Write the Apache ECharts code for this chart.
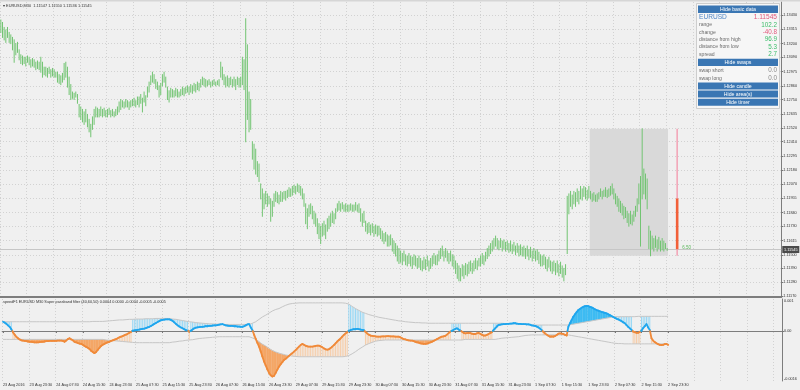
<!DOCTYPE html>
<html><head><meta charset="utf-8">
<script src="https://cdn.jsdelivr.net/npm/echarts@6/dist/echarts.min.js"></script>
<style>html,body{margin:0;padding:0;background:#f0f0f0}#c{width:800px;height:390px}</style>
</head><body><div id="c"></div>
<script>
// ---------- DATA ----------
const timeLabels = ["23 Aug 2016","23 Aug 23:30","24 Aug 07:30","24 Aug 15:30","24 Aug 23:30","25 Aug 07:30","25 Aug 15:30","25 Aug 23:30","26 Aug 07:30","26 Aug 15:30","26 Aug 23:30","29 Aug 07:30","29 Aug 15:30","29 Aug 23:30","30 Aug 07:30","30 Aug 15:30","30 Aug 23:30","31 Aug 07:30","31 Aug 15:30","31 Aug 23:30","1 Sep 07:30","1 Sep 15:30","1 Sep 23:30","2 Sep 07:30","2 Sep 15:30","2 Sep 23:30"];
const priceTicks = [1.13430,1.13315,1.13200,1.13090,1.12975,1.12860,1.12750,1.12635,1.12520,1.12410,1.12295,1.12180,1.12070,1.11955,1.11840,1.11730,1.11615,1.11500,1.11390,1.11280,1.11170];
const indTicks = [0.001, 0, -0.0016];
const indTickLabels = ["0.001", "0.00", "-0.0016"];

const high = [
1.1339,1.1337,1.1333,1.1331,1.1333,1.1329,1.1327,1.1325,1.1323,1.1320,
1.1321,1.1315,1.1311,1.1310,1.1309,1.1309,1.1310,1.1309,1.1307,1.1308,
1.1307,1.1305,1.1306,1.1305,1.1309,1.1305,1.1301,1.1301,1.1300,1.1301,
1.1299,1.1300,1.1299,1.1297,1.1297,1.1295,1.1294,1.1296,1.1304,1.1305,
1.1301,1.1293,1.1287,1.1281,1.1280,1.1281,1.1279,1.1271,1.1269,1.1267,
1.1265,1.1267,1.1263,1.1259,1.1255,1.1261,1.1267,1.1269,1.1268,1.1267,
1.1269,1.1267,1.1268,1.1266,1.1267,1.1268,1.1266,1.1267,1.1265,1.1267,
1.1269,1.1273,1.1275,1.1274,1.1273,1.1275,1.1274,1.1273,1.1274,1.1275,
1.1276,1.1274,1.1277,1.1277,1.1279,1.1276,1.1281,1.1278,1.1285,1.1289,
1.1294,1.1297,1.1295,1.1291,1.1289,1.1286,1.1288,1.1295,1.1297,1.1293,
1.1285,1.1282,1.1284,1.1283,1.1282,1.1284,1.1283,1.1281,1.1283,1.1285,
1.1284,1.1285,1.1286,1.1285,1.1287,1.1286,1.1288,1.1287,1.1289,1.1288,
1.1291,1.1293,1.1292,1.1291,1.1290,1.1291,1.1289,1.1290,1.1291,1.1289,
1.1290,1.1291,1.1305,1.1301,1.1295,1.1293,1.1294,1.1292,1.1293,1.1291,
1.1293,1.1291,1.1293,1.1292,1.1293,1.1309,1.1307,1.1340,1.1319,1.1281,
1.1275,1.1241,1.1239,1.1235,1.1225,1.1223,1.1207,1.1203,1.1199,1.1201,
1.1199,1.1197,1.1195,1.1193,1.1199,1.1201,1.1200,1.1198,1.1201,1.1200,
1.1201,1.1201,1.1202,1.1204,1.1203,1.1205,1.1206,1.1205,1.1207,1.1206,
1.1205,1.1203,1.1199,1.1191,1.1187,1.1190,1.1191,1.1189,1.1185,1.1183,
1.1179,1.1175,1.1173,1.1175,1.1177,1.1174,1.1179,1.1181,1.1183,1.1185,
1.1183,1.1187,1.1191,1.1193,1.1191,1.1192,1.1190,1.1191,1.1190,1.1190,
1.1191,1.1190,1.1190,1.1192,1.1190,1.1191,1.1187,1.1183,1.1185,1.1177,
1.1175,1.1176,1.1174,1.1175,1.1173,1.1174,1.1173,1.1173,1.1171,1.1169,
1.1167,1.1168,1.1166,1.1165,1.1166,1.1163,1.1161,1.1159,1.1157,1.1155,
1.1153,1.1151,1.1153,1.1150,1.1149,1.1151,1.1149,1.1148,1.1150,1.1149,
1.1147,1.1149,1.1147,1.1145,1.1148,1.1146,1.1149,1.1145,1.1147,1.1149,
1.1151,1.1149,1.1150,1.1153,1.1155,1.1157,1.1153,1.1155,1.1153,1.1151,
1.1153,1.1150,1.1149,1.1145,1.1143,1.1141,1.1139,1.1142,1.1141,1.1143,
1.1142,1.1144,1.1145,1.1143,1.1145,1.1147,1.1145,1.1147,1.1149,1.1151,
1.1149,1.1152,1.1155,1.1157,1.1159,1.1161,1.1163,1.1165,1.1163,1.1161,
1.1163,1.1161,1.1162,1.1160,1.1161,1.1159,1.1161,1.1158,1.1160,1.1157,
1.1159,1.1157,1.1158,1.1156,1.1157,1.1155,1.1157,1.1154,1.1156,1.1153,
1.1155,1.1153,1.1154,1.1152,1.1150,1.1149,1.1150,1.1148,1.1146,1.1148,
1.1145,1.1144,1.1145,1.1143,1.1145,1.1142,1.1144,1.1141,1.1139,1.1142,
1.1197,1.1199,1.1201,1.1198,1.1201,1.1200,1.1203,1.1201,1.1205,1.1203,
1.1205,1.1204,1.1202,1.1205,1.1201,1.1199,1.1200,1.1198,1.1199,1.1200,
1.1203,1.1201,1.1202,1.1204,1.1202,1.1203,1.1205,1.1207,1.1203,1.1199,
1.1197,1.1195,1.1193,1.1191,1.1189,1.1188,1.1185,1.1183,1.1185,1.1182,
1.1185,1.1189,1.1195,1.1207,1.1213,1.12514,1.1219,1.1215,1.1211,1.1173,
1.1169,1.1165,1.1163,1.1165,1.1162,1.1164,1.1161,1.1163,1.1161,1.1159,
1.11550];
const low = [
1.1329,1.1325,1.1323,1.1321,1.1325,1.1321,1.1320,1.1315,1.1305,1.1311,
1.1313,1.1307,1.1304,1.1303,1.1304,1.1302,1.1305,1.1303,1.1301,1.1302,
1.1301,1.1299,1.1300,1.1299,1.1297,1.1293,1.1295,1.1294,1.1293,1.1296,
1.1293,1.1294,1.1293,1.1293,1.1289,1.1288,1.1287,1.1289,1.1291,1.1293,
1.1285,1.1279,1.1275,1.1276,1.1275,1.1277,1.1272,1.1261,1.1259,1.1257,
1.1255,1.1257,1.1253,1.1249,1.1245,1.1251,1.1255,1.1261,1.1261,1.1261,
1.1262,1.1261,1.1262,1.1261,1.1261,1.1263,1.1261,1.1262,1.1261,1.1262,
1.1263,1.1265,1.1267,1.1269,1.1268,1.1269,1.1269,1.1267,1.1269,1.1270,
1.1270,1.1269,1.1271,1.1269,1.1272,1.1265,1.1273,1.1270,1.1277,1.1281,
1.1287,1.1289,1.1288,1.1284,1.1283,1.1277,1.1279,1.1286,1.1289,1.1285,
1.1275,1.1273,1.1277,1.1277,1.1277,1.1278,1.1277,1.1277,1.1278,1.1279,
1.1278,1.1280,1.1281,1.1279,1.1281,1.1280,1.1282,1.1281,1.1283,1.1282,
1.1285,1.1287,1.1286,1.1285,1.1286,1.1287,1.1285,1.1286,1.1287,1.1286,
1.1287,1.1286,1.1293,1.1291,1.1287,1.1285,1.1286,1.1285,1.1287,1.1285,
1.1286,1.1283,1.1287,1.1285,1.1285,1.1287,1.1283,1.1241,1.1259,1.1249,
1.1251,1.1227,1.1219,1.1215,1.1213,1.1209,1.1195,1.1181,1.1187,1.1191,
1.1189,1.1191,1.1177,1.1181,1.1189,1.1193,1.1192,1.1191,1.1193,1.1193,
1.1195,1.1194,1.1196,1.1197,1.1197,1.1198,1.1200,1.1199,1.1201,1.1200,
1.1198,1.1195,1.1189,1.1175,1.1171,1.1181,1.1183,1.1179,1.1175,1.1173,
1.1167,1.1163,1.1159,1.1165,1.1166,1.1163,1.1169,1.1171,1.1173,1.1176,
1.1175,1.1179,1.1185,1.1186,1.1185,1.1187,1.1185,1.1185,1.1185,1.1185,
1.1186,1.1185,1.1185,1.1186,1.1185,1.1184,1.1177,1.1173,1.1176,1.1169,
1.1167,1.1168,1.1166,1.1168,1.1165,1.1167,1.1165,1.1166,1.1163,1.1161,
1.1159,1.1161,1.1157,1.1157,1.1158,1.1153,1.1151,1.1149,1.1145,1.1143,
1.1144,1.1142,1.1145,1.1142,1.1141,1.1143,1.1141,1.1139,1.1142,1.1141,
1.1139,1.1140,1.1138,1.1137,1.1139,1.1138,1.1141,1.1137,1.1139,1.1141,
1.1143,1.1142,1.1142,1.1145,1.1147,1.1149,1.1145,1.1148,1.1145,1.1143,
1.1145,1.1141,1.1139,1.1135,1.1131,1.1129,1.1129,1.1133,1.1131,1.1134,
1.1133,1.1135,1.1137,1.1135,1.1137,1.1139,1.1138,1.1141,1.1141,1.1143,
1.1142,1.1145,1.1147,1.1149,1.1151,1.1153,1.1155,1.1157,1.1155,1.1154,
1.1156,1.1153,1.1155,1.1153,1.1154,1.1152,1.1153,1.1151,1.1153,1.1150,
1.1152,1.1149,1.1150,1.1149,1.1149,1.1147,1.1149,1.1146,1.1148,1.1145,
1.1147,1.1145,1.1146,1.1143,1.1141,1.1141,1.1142,1.1139,1.1137,1.1140,
1.1137,1.1135,1.1137,1.1134,1.1136,1.1133,1.1135,1.1132,1.1129,1.1134,
1.1151,1.1183,1.1189,1.1187,1.1191,1.1189,1.1193,1.1191,1.1195,1.1194,
1.1197,1.1195,1.1194,1.1196,1.1195,1.1193,1.1194,1.1193,1.1193,1.1195,
1.1197,1.1195,1.1197,1.1197,1.1196,1.1197,1.1198,1.1199,1.1195,1.1191,
1.1189,1.1185,1.1184,1.1182,1.1179,1.1180,1.1176,1.1173,1.1175,1.1174,
1.1177,1.1181,1.1185,1.1191,1.1157,1.1195,1.1199,1.1195,1.1187,1.1155,
1.11492,1.1155,1.1153,1.1156,1.1153,1.1155,1.1153,1.1154,1.1153,1.1155,
1.11536];

// today's daily candle: open, close, low, high
const dayCandle = [1.11953, 1.11545, 1.11492, 1.12514];
const dayStartBar = 354;
const lastClose = 1.11545;
const timerText = "6.50";

// Super passband filter line and its bands
const filt = [
0.00031,0.00028,0.00024,0.00019,0.00014,0.00006,-0.00004,-0.00012,-0.00019,-0.00024,
-0.00028,-0.00031,-0.00032,-0.00033,-0.00034,-0.00035,-0.00036,-0.00036,-0.00037,-0.00038,
-0.00038,-0.00038,-0.00037,-0.00036,-0.00036,-0.00035,-0.00034,-0.00034,-0.00033,-0.00033,
-0.00033,-0.00033,-0.00033,-0.00032,-0.00032,-0.00032,-0.00033,-0.00036,-0.00032,-0.00027,
-0.00024,-0.00028,-0.00031,-0.00036,-0.00038,-0.00040,-0.00042,-0.00043,-0.00046,-0.00050,
-0.00053,-0.00056,-0.00060,-0.00066,-0.00070,-0.00074,-0.00070,-0.00063,-0.00056,-0.00050,
-0.00046,-0.00043,-0.00040,-0.00038,-0.00036,-0.00033,-0.00031,-0.00029,-0.00027,-0.00024,
-0.00021,-0.00019,-0.00017,-0.00014,-0.00012,-0.00009,-0.00006,-0.00003,0.00001,0.00002,
0.00003,0.00004,0.00005,0.00006,0.00007,0.00008,0.00010,0.00012,0.00014,0.00017,
0.00020,0.00024,0.00027,0.00030,0.00033,0.00036,0.00037,0.00038,0.00039,0.00039,
0.00039,0.00037,0.00034,0.00029,0.00024,0.00019,0.00015,0.00012,0.00009,0.00006,
0.00003,0.00001,-0.00002,0.00001,0.00005,0.00009,0.00011,0.00012,0.00013,0.00014,
0.00014,0.00015,0.00016,0.00016,0.00017,0.00017,0.00018,0.00019,0.00019,0.00020,
0.00021,0.00022,0.00023,0.00021,0.00019,0.00018,0.00017,0.00017,0.00017,0.00016,
0.00016,0.00015,0.00015,0.00014,0.00014,0.00016,0.00019,0.00022,0.00023,0.00012,
0.00003,-0.00012,-0.00026,-0.00040,-0.00052,-0.00068,-0.00085,-0.00102,-0.00115,-0.00128,
-0.00140,-0.00148,-0.00152,-0.00150,-0.00140,-0.00129,-0.00119,-0.00111,-0.00104,-0.00097,
-0.00093,-0.00088,-0.00083,-0.00078,-0.00074,-0.00069,-0.00064,-0.00058,-0.00052,-0.00047,
-0.00043,-0.00046,-0.00049,-0.00051,-0.00052,-0.00052,-0.00052,-0.00051,-0.00050,-0.00049,
-0.00049,-0.00051,-0.00054,-0.00058,-0.00061,-0.00062,-0.00061,-0.00057,-0.00052,-0.00047,
-0.00041,-0.00035,-0.00030,-0.00025,-0.00019,-0.00013,-0.00008,-0.00004,0.00001,0.00003,
0.00005,0.00006,0.00006,0.00007,0.00006,0.00005,0.00004,0.00003,-0.00003,-0.00008,
-0.00012,-0.00015,-0.00016,-0.00017,-0.00018,-0.00019,-0.00019,-0.00019,-0.00018,-0.00018,
-0.00018,-0.00017,-0.00017,-0.00018,-0.00018,-0.00018,-0.00019,-0.00019,-0.00019,-0.00021,
-0.00024,-0.00027,-0.00028,-0.00030,-0.00031,-0.00032,-0.00032,-0.00034,-0.00036,-0.00038,
-0.00039,-0.00041,-0.00042,-0.00043,-0.00043,-0.00042,-0.00040,-0.00038,-0.00036,-0.00033,
-0.00030,-0.00027,-0.00024,-0.00021,-0.00019,-0.00018,-0.00016,-0.00012,-0.00007,-0.00002,
0.00001,0.00004,0.00007,0.00009,0.00005,0.00002,-0.00002,-0.00006,-0.00008,-0.00007,
-0.00006,-0.00007,-0.00009,-0.00010,-0.00010,-0.00008,-0.00006,-0.00009,-0.00012,-0.00015,
-0.00015,-0.00013,-0.00010,-0.00007,-0.00004,0.00003,0.00009,0.00015,0.00020,0.00021,
0.00022,0.00023,0.00023,0.00024,0.00024,0.00025,0.00025,0.00026,0.00026,0.00025,
0.00024,0.00024,0.00023,0.00023,0.00023,0.00022,0.00022,0.00021,0.00019,0.00018,
0.00017,0.00015,0.00012,0.00008,0.00003,-0.00003,-0.00008,-0.00012,-0.00016,-0.00019,
-0.00019,-0.00019,-0.00017,-0.00013,-0.00009,-0.00008,-0.00009,-0.00010,-0.00013,-0.00015,
0.00014,0.00026,0.00037,0.00048,0.00056,0.00063,0.00070,0.00074,0.00078,0.00081,
0.00083,0.00084,0.00083,0.00081,0.00079,0.00076,0.00073,0.00070,0.00068,0.00066,
0.00064,0.00062,0.00061,0.00059,0.00056,0.00053,0.00050,0.00047,0.00044,0.00041,
0.00039,0.00036,0.00033,0.00029,0.00026,0.00020,0.00014,0.00009,0.00004,-0.00002,
-0.00004,-0.00006,-0.00006,-0.00003,0.00001,0.00010,0.00016,0.00023,0.00012,0.00003,
-0.00024,-0.00032,-0.00037,-0.00041,-0.00044,-0.00046,-0.00047,-0.00046,-0.00044,-0.00043,
-0.00047];
const bandUp = [
0.00031,0.00031,0.00031,0.00031,0.00031,0.00031,0.00031,0.00031,0.00031,0.00031,
0.00031,0.00031,0.00031,0.00031,0.00031,0.00031,0.00031,0.00031,0.00031,0.00031,
0.00031,0.00031,0.00031,0.00031,0.00031,0.00031,0.00031,0.00031,0.00031,0.00031,
0.00031,0.00031,0.00031,0.00031,0.00031,0.00031,0.00031,0.00031,0.00031,0.00031,
0.00031,0.00031,0.00031,0.00031,0.00031,0.00031,0.00031,0.00031,0.00031,0.00031,
0.00031,0.00031,0.00031,0.00032,0.00032,0.00032,0.00032,0.00032,0.00032,0.00032,
0.00032,0.00032,0.00033,0.00033,0.00034,0.00034,0.00035,0.00035,0.00036,0.00036,
0.00037,0.00037,0.00037,0.00038,0.00038,0.00038,0.00039,0.00039,0.00039,0.00040,
0.00040,0.00040,0.00040,0.00040,0.00040,0.00041,0.00041,0.00041,0.00041,0.00041,
0.00041,0.00042,0.00042,0.00042,0.00042,0.00042,0.00042,0.00042,0.00042,0.00042,
0.00042,0.00041,0.00040,0.00040,0.00039,0.00038,0.00037,0.00036,0.00035,0.00034,
0.00033,0.00032,0.00031,0.00030,0.00030,0.00029,0.00028,0.00028,0.00027,0.00027,
0.00026,0.00026,0.00025,0.00025,0.00024,0.00024,0.00024,0.00023,0.00023,0.00023,
0.00023,0.00022,0.00022,0.00022,0.00022,0.00022,0.00022,0.00022,0.00022,0.00022,
0.00022,0.00022,0.00022,0.00022,0.00022,0.00022,0.00022,0.00022,0.00022,0.00024,
0.00026,0.00028,0.00031,0.00035,0.00039,0.00043,0.00047,0.00050,0.00053,0.00057,
0.00060,0.00064,0.00067,0.00070,0.00072,0.00074,0.00075,0.00078,0.00081,0.00084,
0.00086,0.00088,0.00090,0.00091,0.00092,0.00093,0.00093,0.00094,0.00094,0.00094,
0.00094,0.00094,0.00094,0.00094,0.00094,0.00094,0.00094,0.00094,0.00094,0.00094,
0.00094,0.00094,0.00094,0.00094,0.00094,0.00094,0.00094,0.00094,0.00094,0.00094,
0.00094,0.00094,0.00094,0.00094,0.00094,0.00094,0.00093,0.00091,0.00090,0.00086,
0.00082,0.00078,0.00075,0.00072,0.00069,0.00066,0.00063,0.00061,0.00059,0.00057,
0.00055,0.00054,0.00052,0.00050,0.00049,0.00047,0.00046,0.00045,0.00044,0.00043,
0.00042,0.00041,0.00040,0.00039,0.00038,0.00037,0.00036,0.00035,0.00034,0.00033,
0.00033,0.00032,0.00031,0.00031,0.00030,0.00030,0.00029,0.00029,0.00028,0.00028,
0.00028,0.00027,0.00027,0.00027,0.00027,0.00026,0.00026,0.00026,0.00026,0.00026,
0.00026,0.00026,0.00026,0.00026,0.00026,0.00026,0.00026,0.00026,0.00026,0.00026,
0.00026,0.00026,0.00026,0.00026,0.00026,0.00026,0.00026,0.00026,0.00026,0.00026,
0.00026,0.00026,0.00026,0.00026,0.00026,0.00026,0.00026,0.00026,0.00026,0.00026,
0.00026,0.00026,0.00026,0.00026,0.00026,0.00026,0.00026,0.00026,0.00026,0.00026,
0.00026,0.00025,0.00025,0.00025,0.00025,0.00025,0.00025,0.00025,0.00025,0.00025,
0.00025,0.00023,0.00023,0.00023,0.00023,0.00023,0.00023,0.00023,0.00020,0.00020,
0.00020,0.00020,0.00020,0.00020,0.00020,0.00020,0.00020,0.00020,0.00020,0.00020,
0.00020,0.00020,0.00020,0.00020,0.00020,0.00020,0.00020,0.00020,0.00020,0.00020,
0.00020,0.00021,0.00022,0.00023,0.00024,0.00025,0.00026,0.00027,0.00028,0.00029,
0.00030,0.00031,0.00032,0.00033,0.00034,0.00035,0.00036,0.00037,0.00038,0.00039,
0.00040,0.00041,0.00042,0.00043,0.00044,0.00045,0.00046,0.00047,0.00048,0.00048,
0.00048,0.00048,0.00048,0.00048,0.00048,0.00048,0.00048,0.00048,0.00048,0.00048,
0.00048,0.00049,0.00049,0.00049,0.00049,0.00049,0.00049,0.00049,0.00049,0.00049,
0.00049,0.00049,0.00049,0.00049,0.00049,0.00049,0.00049,0.00049,0.00049,0.00049,
0.00049];
const bandDn = [
-0.00028,-0.00028,-0.00028,-0.00028,-0.00028,-0.00028,-0.00028,-0.00028,-0.00028,-0.00028,
-0.00028,-0.00028,-0.00028,-0.00028,-0.00028,-0.00028,-0.00028,-0.00028,-0.00028,-0.00028,
-0.00028,-0.00028,-0.00028,-0.00028,-0.00028,-0.00028,-0.00028,-0.00028,-0.00028,-0.00028,
-0.00028,-0.00028,-0.00028,-0.00028,-0.00028,-0.00028,-0.00028,-0.00028,-0.00028,-0.00028,
-0.00028,-0.00028,-0.00028,-0.00028,-0.00028,-0.00028,-0.00028,-0.00028,-0.00028,-0.00028,
-0.00028,-0.00028,-0.00028,-0.00028,-0.00028,-0.00028,-0.00028,-0.00028,-0.00028,-0.00028,
-0.00028,-0.00029,-0.00030,-0.00030,-0.00031,-0.00031,-0.00032,-0.00032,-0.00033,-0.00033,
-0.00034,-0.00035,-0.00035,-0.00036,-0.00036,-0.00037,-0.00037,-0.00038,-0.00038,-0.00039,
-0.00039,-0.00039,-0.00039,-0.00039,-0.00039,-0.00039,-0.00039,-0.00039,-0.00039,-0.00039,
-0.00039,-0.00039,-0.00039,-0.00039,-0.00039,-0.00039,-0.00039,-0.00039,-0.00039,-0.00039,
-0.00039,-0.00038,-0.00037,-0.00037,-0.00036,-0.00035,-0.00034,-0.00034,-0.00033,-0.00032,
-0.00031,-0.00031,-0.00030,-0.00029,-0.00029,-0.00028,-0.00027,-0.00026,-0.00025,-0.00025,
-0.00024,-0.00023,-0.00023,-0.00022,-0.00022,-0.00021,-0.00021,-0.00020,-0.00020,-0.00019,
-0.00019,-0.00019,-0.00019,-0.00019,-0.00019,-0.00019,-0.00019,-0.00019,-0.00019,-0.00019,
-0.00019,-0.00019,-0.00019,-0.00019,-0.00019,-0.00019,-0.00019,-0.00019,-0.00019,-0.00021,
-0.00023,-0.00025,-0.00028,-0.00032,-0.00036,-0.00040,-0.00044,-0.00047,-0.00050,-0.00054,
-0.00058,-0.00062,-0.00065,-0.00068,-0.00070,-0.00072,-0.00074,-0.00076,-0.00077,-0.00079,
-0.00080,-0.00081,-0.00082,-0.00083,-0.00084,-0.00085,-0.00085,-0.00086,-0.00086,-0.00086,
-0.00086,-0.00086,-0.00086,-0.00086,-0.00086,-0.00086,-0.00086,-0.00086,-0.00086,-0.00086,
-0.00086,-0.00086,-0.00086,-0.00086,-0.00086,-0.00086,-0.00086,-0.00086,-0.00086,-0.00086,
-0.00086,-0.00086,-0.00086,-0.00086,-0.00086,-0.00086,-0.00085,-0.00084,-0.00082,-0.00079,
-0.00076,-0.00072,-0.00069,-0.00065,-0.00061,-0.00058,-0.00054,-0.00050,-0.00047,-0.00045,
-0.00042,-0.00040,-0.00038,-0.00036,-0.00034,-0.00033,-0.00032,-0.00031,-0.00031,-0.00030,
-0.00030,-0.00030,-0.00030,-0.00030,-0.00030,-0.00030,-0.00030,-0.00030,-0.00030,-0.00030,
-0.00030,-0.00030,-0.00030,-0.00030,-0.00030,-0.00030,-0.00030,-0.00030,-0.00030,-0.00030,
-0.00030,-0.00030,-0.00030,-0.00030,-0.00030,-0.00030,-0.00030,-0.00030,-0.00030,-0.00030,
-0.00030,-0.00030,-0.00030,-0.00030,-0.00030,-0.00030,-0.00030,-0.00030,-0.00030,-0.00030,
-0.00030,-0.00030,-0.00030,-0.00030,-0.00030,-0.00030,-0.00030,-0.00028,-0.00028,-0.00028,
-0.00028,-0.00028,-0.00028,-0.00028,-0.00028,-0.00028,-0.00028,-0.00028,-0.00028,-0.00028,
-0.00028,-0.00028,-0.00028,-0.00028,-0.00028,-0.00028,-0.00028,-0.00027,-0.00026,-0.00025,
-0.00024,-0.00024,-0.00023,-0.00023,-0.00022,-0.00022,-0.00021,-0.00021,-0.00020,-0.00020,
-0.00019,-0.00018,-0.00017,-0.00016,-0.00015,-0.00015,-0.00014,-0.00014,-0.00013,-0.00013,
-0.00013,-0.00013,-0.00013,-0.00013,-0.00013,-0.00013,-0.00013,-0.00013,-0.00013,-0.00013,
-0.00013,-0.00013,-0.00013,-0.00013,-0.00013,-0.00013,-0.00013,-0.00013,-0.00013,-0.00013,
-0.00013,-0.00014,-0.00015,-0.00016,-0.00017,-0.00018,-0.00019,-0.00020,-0.00021,-0.00022,
-0.00023,-0.00024,-0.00025,-0.00026,-0.00027,-0.00028,-0.00029,-0.00030,-0.00031,-0.00032,
-0.00033,-0.00034,-0.00035,-0.00036,-0.00037,-0.00038,-0.00039,-0.00040,-0.00041,-0.00041,
-0.00042,-0.00042,-0.00042,-0.00043,-0.00043,-0.00043,-0.00043,-0.00043,-0.00043,-0.00043,
-0.00043,-0.00043,-0.00043,-0.00043,-0.00043,-0.00043,-0.00043,-0.00043,-0.00043,-0.00043,
-0.00043,-0.00043,-0.00043,-0.00043,-0.00043,-0.00043,-0.00043,-0.00043,-0.00043,-0.00043,
-0.00043];

const panelRows = [
  ["range", "102.2", "#3dbd6b"],
  ["change", "-40.8", "#e2587c"],
  ["distance from high", "96.9", "#3dbd6b"],
  ["distance from low", "5.3", "#3dbd6b"],
  ["spread", "2.7", "#3dbd6b"]
];
const swapRows = [["swap short", "0.0"], ["swap long", "0.0"]];

// ---------- CHART ----------
const FONT = 'Liberation Sans';
const NCAT = 469;
const cats = Array.from({length: NCAT}, (_, i) => i);
const gridCol = '#d2d2d2';
const BLUE = '#1fa6ee', ORANGE = '#f08a3a';
const labelIdx = (i) => i % 16 === 0 && i / 16 < timeLabels.length;

const chart = echarts.init(document.getElementById('c'));

function xAxisFor(gi, labels) {
  return {
    type: 'category', gridIndex: gi, data: cats, boundaryGap: true,
    axisLine: {show: true, lineStyle: {color: '#7d7d7d', width: gi === 0 ? 2 : 1}},
    axisTick: {show: labels, alignWithLabel: true, length: 2, interval: labelIdx, lineStyle: {color: '#777'}},
    axisLabel: {show: labels, interval: labelIdx, formatter: (v, idx) => timeLabels[idx / 16], align: 'left',
      fontSize: 3.8, color: '#333', margin: 2, fontFamily: FONT},
    splitLine: {show: true, interval: (i) => i % 16 === 0, lineStyle: {color: gridCol, type: [1, 2], width: 1}}
  };
}

const priceData = high.map((h, i) => [i, h, low[i]]);
const boxTop = Math.max(...high.slice(dayStartBar));
const boxBot = Math.min(...low.slice(dayStartBar));
const lastBar = high.length - 1;
const fillData = filt.map((v, i) => [i, v, bandUp[i], bandDn[i]]);
const segData = filt.slice(0, -1).map((v, i) => [i, v, filt[i + 1]]);

function seg(p, q, c) {
  return {type: 'line', shape: {x1: p[0], y1: p[1], x2: q[0], y2: q[1]}, style: {stroke: c, lineWidth: 1.8, lineCap: 'round'}};
}

const option = {
  animation: false,
  backgroundColor: '#f0f0f0',
  grid: [
    {left: 0, right: 18, top: 2, height: 295},
    {left: 0, right: 18, top: 299, height: 82}
  ],
  xAxis: [xAxisFor(0, false), xAxisFor(1, true)],
  yAxis: [
    {type: 'value', gridIndex: 0, position: 'right', min: 1.11160, max: 1.13535,
      axisLine: {show: true, lineStyle: {color: '#7d7d7d'}},
      axisTick: {show: true, length: 2, customValues: priceTicks, lineStyle: {color: '#777'}},
      axisLabel: {customValues: priceTicks, formatter: v => v.toFixed(5), fontSize: 3.8, color: '#333', margin: 2, fontFamily: FONT},
      splitLine: {show: true, lineStyle: {color: gridCol, type: [1, 2]}}},
    {type: 'value', gridIndex: 1, position: 'right', min: -0.00167, max: 0.00107,
      axisLine: {show: true, lineStyle: {color: '#7d7d7d'}},
      axisTick: {show: true, length: 2, customValues: [0], lineStyle: {color: '#777'}},
      axisLabel: {customValues: indTicks, formatter: v => { const k = indTicks.indexOf(v); return k >= 0 ? indTickLabels[k] : ''; },
        fontSize: 3.8, color: '#333', margin: 2, fontFamily: FONT},
      splitLine: {show: true, lineStyle: {color: gridCol, type: [1, 2]}}}
  ],
  series: [
    { // today's range box
      type: 'custom', xAxisIndex: 0, yAxisIndex: 0, z: 1,
      data: [[dayStartBar, boxTop, lastBar, boxBot]],
      encode: {x: [0, 2], y: [1, 3]},
      renderItem: (params, api) => {
        const p1 = api.coord([api.value(0), api.value(1)]);
        const p2 = api.coord([api.value(2), api.value(3)]);
        const w = api.size([1, 0])[0];
        return {type: 'rect', shape: {x: p1[0] - w / 2, y: p1[1], width: p2[0] - p1[0] + w, height: p2[1] - p1[1]},
          style: {fill: '#d9d9d9'}};
      }
    },
    { // current price line + tag
      type: 'custom', xAxisIndex: 0, yAxisIndex: 0, z: 2, clip: false,
      data: [[lastBar, lastClose]],
      renderItem: (params, api) => {
        const p = api.coord([api.value(0), api.value(1)]);
        const cs = params.coordSys;
        const y = Math.round(p[1]) + 0.5;
        return {type: 'group', children: [
          {type: 'line', shape: {x1: cs.x, y1: y, x2: cs.x + cs.width, y2: y}, style: {stroke: '#c6c6c6', lineWidth: 1}},
          {type: 'rect', shape: {x: cs.x + cs.width + 1, y: y - 3.5, width: 17, height: 7}, style: {fill: '#4a4a4a'}},
          {type: 'text', x: cs.x + cs.width + 9.5, y: y, style: {text: lastClose.toFixed(5), fill: '#ffffff', fontSize: 3.8,
            fontFamily: FONT, align: 'center', verticalAlign: 'middle', textAlign: 'center', textVerticalAlign: 'middle'}}
        ]};
      }
    },
    { // price bars (high-low)
      type: 'custom', xAxisIndex: 0, yAxisIndex: 0, z: 3,
      data: priceData, encode: {x: 0, y: [1, 2]},
      renderItem: (params, api) => {
        const a = api.coord([api.value(0), api.value(1)]);
        const b = api.coord([api.value(0), api.value(2)]);
        return {type: 'line', shape: {x1: a[0], y1: a[1] - 0.5, x2: b[0], y2: b[1] + 0.5},
          style: {stroke: '#72c472', lineWidth: 1}};
      }
    },
    { // daily candle and timer
      type: 'custom', xAxisIndex: 0, yAxisIndex: 0, z: 4,
      data: [[406].concat(dayCandle)],
      encode: {x: 0, y: [1, 2, 3, 4]},
      renderItem: (params, api) => {
        const x = api.coord([api.value(0), api.value(1)])[0];
        const yo = api.coord([api.value(0), api.value(1)])[1];
        const yc = api.coord([api.value(0), api.value(2)])[1];
        const yl = api.coord([api.value(0), api.value(3)])[1];
        const yh = api.coord([api.value(0), api.value(4)])[1];
        return {type: 'group', children: [
          {type: 'line', shape: {x1: x, y1: yh, x2: x, y2: yl}, style: {stroke: '#f2a6b8', lineWidth: 1.6}},
          {type: 'rect', shape: {x: x - 1.3, y: Math.min(yo, yc), width: 2.6, height: Math.abs(yc - yo)}, style: {fill: '#f2603a'}},
          {type: 'text', x: x + 5, y: yc - 1, style: {text: timerText, fill: '#5cb85c', fontSize: 4.5, fontFamily: FONT,
            align: 'left', verticalAlign: 'middle', textAlign: 'left', textVerticalAlign: 'middle'}}
        ]};
      }
    },
    { // filter fills & hatches
      type: 'custom', xAxisIndex: 1, yAxisIndex: 1, z: 2,
      data: fillData, encode: {x: 0, y: [1, 2, 3]},
      renderItem: (params, api) => {
        const i = api.value(0), f = api.value(1), u = api.value(2), d = api.value(3);
        const pf = api.coord([i, f]), pu = api.coord([i, u]), pd = api.coord([i, d]);
        const w = api.size([1, 0])[0] + 0.25;
        if (f >= 0) {
          if (f > u) return {type: 'rect', shape: {x: pf[0] - w / 2, y: pf[1], width: w, height: pu[1] - pf[1]}, style: {fill: '#3dbbf2'}};
          return {type: 'line', shape: {x1: pf[0], y1: pu[1], x2: pf[0], y2: pf[1]}, style: {stroke: '#8fd5f5', lineWidth: 0.9}};
        } else {
          if (f < d) return {type: 'rect', shape: {x: pf[0] - w / 2, y: pd[1], width: w, height: pf[1] - pd[1]}, style: {fill: '#f4a666'}};
          return {type: 'line', shape: {x1: pf[0], y1: pf[1], x2: pf[0], y2: pd[1]}, style: {stroke: '#f6c9a3', lineWidth: 0.9}};
        }
      }
    },
    { // upper band
      type: 'line', xAxisIndex: 1, yAxisIndex: 1, z: 3, symbol: 'none',
      data: bandUp.map((v, i) => [i, v]), lineStyle: {color: '#c6c6c6', width: 1}
    },
    { // lower band
      type: 'line', xAxisIndex: 1, yAxisIndex: 1, z: 3, symbol: 'none',
      data: bandDn.map((v, i) => [i, v]), lineStyle: {color: '#c6c6c6', width: 1}
    },
    { // filter line, blue above zero, orange below
      type: 'custom', xAxisIndex: 1, yAxisIndex: 1, z: 5,
      data: segData, encode: {x: 0, y: [1, 2]},
      renderItem: (params, api) => {
        const i = api.value(0), a = api.value(1), b = api.value(2);
        const p = api.coord([i, a]), q = api.coord([i + 1, b]);
        const col = v => v > 0 ? BLUE : ORANGE;
        if ((a > 0) === (b > 0)) return seg(p, q, col(a));
        const t = a / (a - b);
        const m = [p[0] + (q[0] - p[0]) * t, p[1] + (q[1] - p[1]) * t];
        return {type: 'group', children: [seg(p, m, col(a)), seg(m, q, col(b))]};
      }
    }
  ],
  graphic: buildGraphic()
};

function txt(x, y, text, size, color, align) {
  return {type: 'text', x: x, y: y, z: 100, style: {text: text, fill: color, fontSize: size, fontFamily: FONT,
    align: align || 'left', verticalAlign: 'middle', textAlign: align || 'left', textVerticalAlign: 'middle'}};
}
function button(y, h, label) {
  return [
    {type: 'rect', z: 99, shape: {x: 698, y: y, width: 80, height: h}, style: {fill: '#3a76b3'}},
    txt(738, y + h / 2, label, 5.2, '#ffffff', 'center')
  ];
}
function buildGraphic() {
  const els = [];
  els.push({type: 'rect', z: 98, shape: {x: 0, y: 0, width: 800, height: 1.5}, style: {fill: '#d6d6d6'}});
  els.push(txt(3, 6, '\u25BE EURUSD,M30  1.11547 1.11550 1.11536 1.11545', 3.9, '#333'));
  els.push(txt(3, 302, 'speedF1 EURUSD M30 Super passband filter (40,60,50) 0.0004 0.0000 -0.0004 -0.0005 -0.0005', 3.8, '#333'));
  els.push({type: 'rect', z: 97, shape: {x: 696.5, y: 3.5, width: 83, height: 105}, style: {fill: '#f6f6f6', stroke: '#cdcdcd', lineWidth: 1}});
  els.push(...button(5.5, 7.5, 'Hide basic data'));
  els.push(txt(699, 17, 'EURUSD', 6.6, '#4f86c6'));
  els.push(txt(777, 17, '1.11545', 6.6, '#e2587c', 'right'));
  const rowY = [25, 32.3, 39.7, 47, 54.3];
  panelRows.forEach((r, k) => {
    els.push(txt(699, rowY[k], r[0], 5.1, '#6a6a6a'));
    els.push(txt(777, rowY[k], r[1], 6.3, r[2], 'right'));
  });
  els.push(...button(58.7, 7.3, 'Hide swaps'));
  const swapY = [70.7, 78.2];
  swapRows.forEach((r, k) => {
    els.push(txt(699, swapY[k], r[0], 5.1, '#6a6a6a'));
    els.push(txt(777, swapY[k], r[1], 6.3, '#8a8a8a', 'right'));
  });
  els.push(...button(82.6, 7, 'Hide candle'));
  els.push(...button(90.6, 7, 'Hide area(s)'));
  els.push(...button(98.8, 7, 'Hide timer'));
  return els;
}

chart.setOption(option);
</script>
</body></html>
